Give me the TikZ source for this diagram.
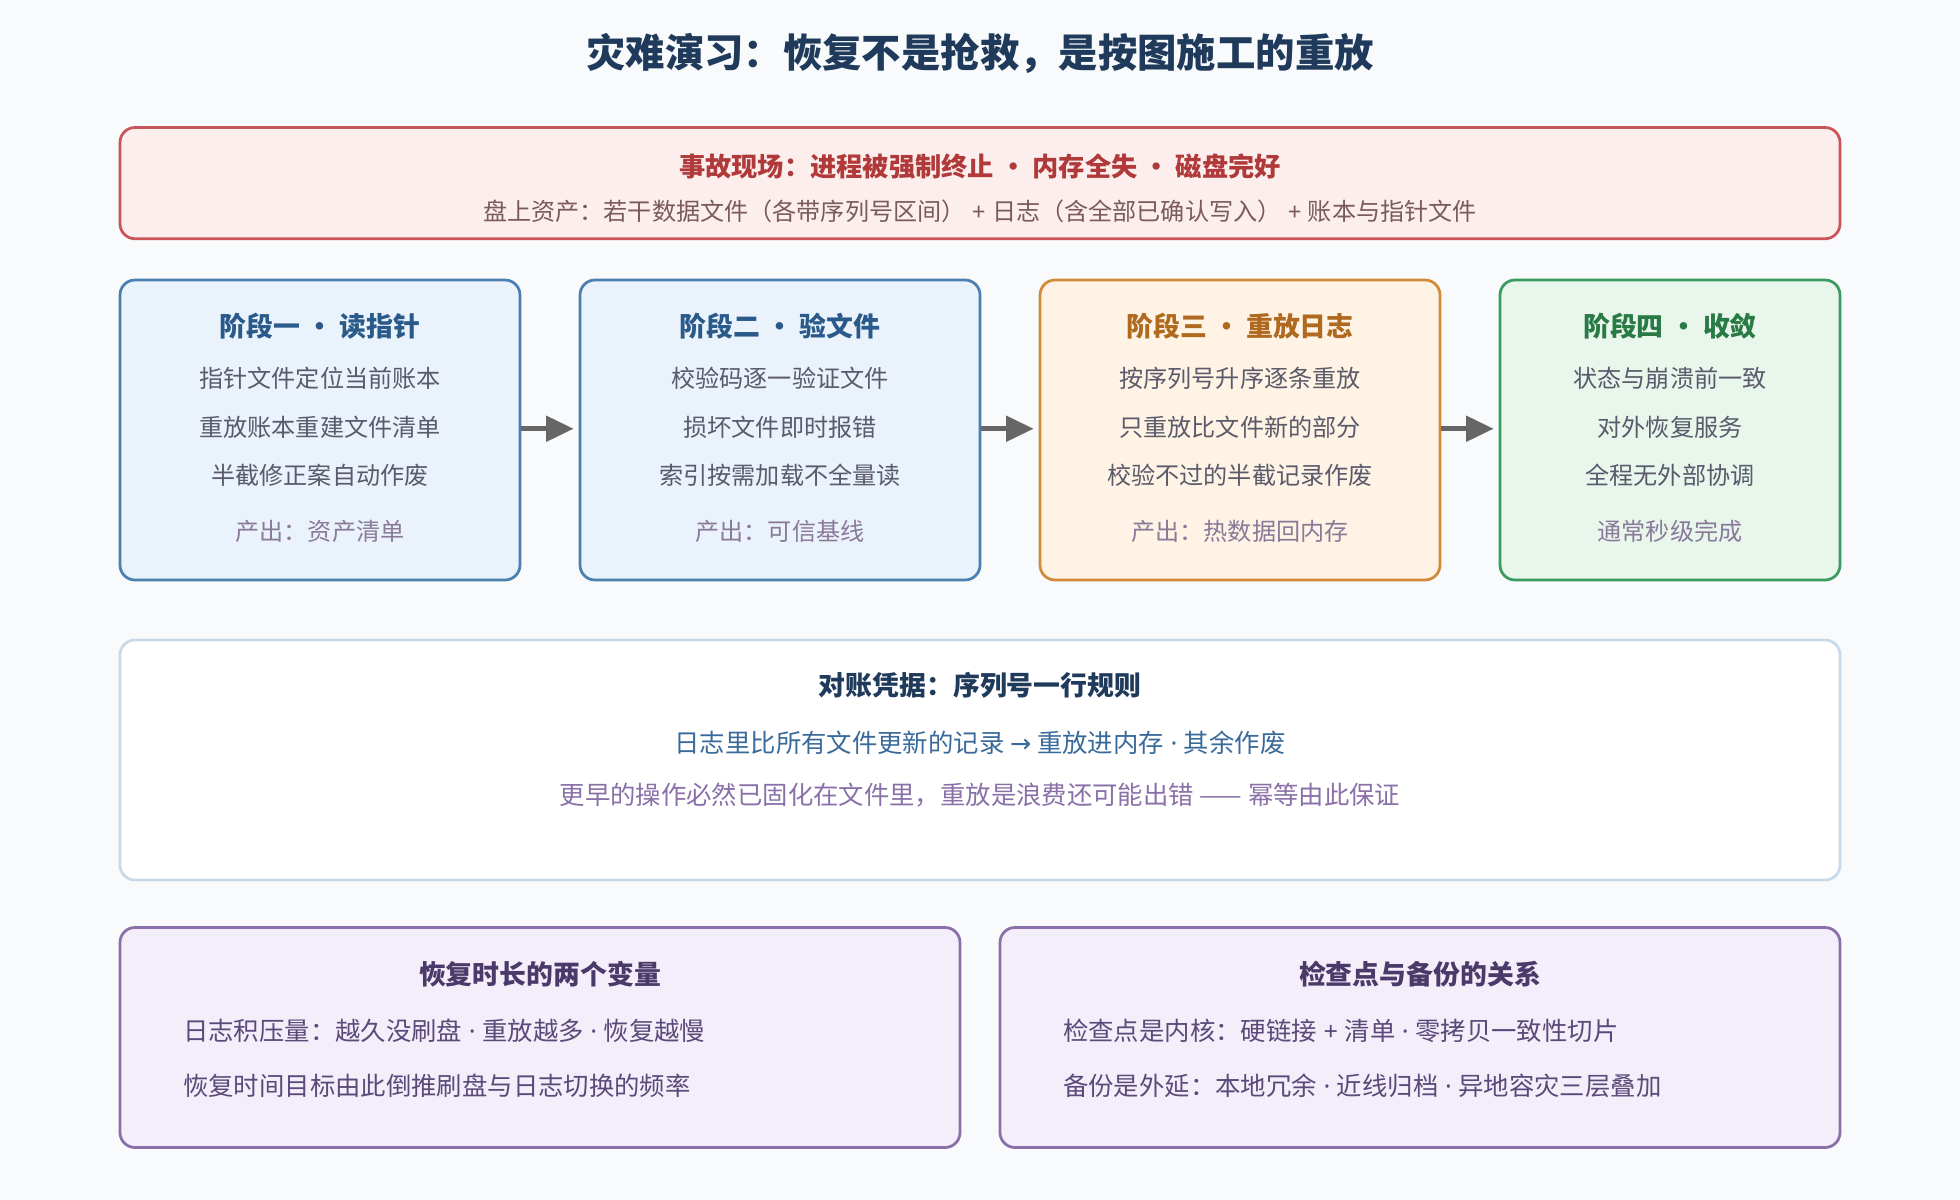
\documentclass[tikz,border=0pt]{standalone}
\usepackage{fontspec}
\setmainfont{Noto Sans CJK SC}
\newfontfamily\lat{Noto Sans}
\newfontfamily\dvs{DejaVu Sans}
\newcommand{\md}{{\lat\ ·\ }}
\newcommand{\pl}{{\lat\ +\ }}
\usetikzlibrary{arrows.meta}
\definecolor{bg}{HTML}{F8FAFC}
\definecolor{navy}{HTML}{1F3A5A}
\definecolor{redb}{HTML}{C9555A}\definecolor{redf}{HTML}{FDEEEE}\definecolor{redt}{HTML}{B03A3A}\definecolor{redg}{HTML}{7A5A5A}
\definecolor{blub}{HTML}{4A7FB0}\definecolor{bluf}{HTML}{EAF2FB}\definecolor{blut}{HTML}{2A5A8A}
\definecolor{orab}{HTML}{D08A3A}\definecolor{oraf}{HTML}{FEF3E4}\definecolor{orat}{HTML}{B06A20}
\definecolor{greb}{HTML}{3A9A60}\definecolor{gref}{HTML}{E8F6EC}\definecolor{gret}{HTML}{2A7A45}
\definecolor{body}{HTML}{5A5A6A}\definecolor{prod}{HTML}{8A7A9A}
\definecolor{midb}{HTML}{C8D8E8}\definecolor{midl}{HTML}{3A6A9A}\definecolor{midp}{HTML}{8A70A8}
\definecolor{purb}{HTML}{8A70A8}\definecolor{purf}{HTML}{F4EEFA}\definecolor{purt}{HTML}{4A3A6A}\definecolor{purl}{HTML}{5A4A7A}
\definecolor{arr}{HTML}{666666}
\tikzset{
 box/.style={draw, line width=2.2pt, rounded corners=12pt},
 ttl/.style={font=\fontsize{21.5}{24}\selectfont\bfseries},
 ln/.style={font=\fontsize{19.3}{22}\selectfont, text=body},
 lnb/.style={font=\fontsize{20.3}{22}\selectfont},
 flow/.style={-{Triangle[length=22pt,width=20pt]}, line width=4pt, arr, shorten >=-2pt},
}
\begin{document}
\begin{tikzpicture}[x=1pt,y=-1pt]
\fill[bg] (0,0) rectangle (1568,960);
\useasboundingbox (0,0) rectangle (1568,960);
\node[font=\fontsize{31.5}{34}\selectfont\bfseries, text=navy] (title) at (784,43) {灾难演习：恢复不是抢救，是按图施工的重放};
% incident
\draw[box, redb, fill=redf] (96,102) rectangle (1472,191);
\node[font=\fontsize{21}{24}\selectfont\bfseries, text=redt] (inc) at (784,133) {事故现场：进程被强制终止 · 内存全失 · 磁盘完好};
\node[ln, text=redg] (inc2) at (784,169) {盘上资产：若干数据文件（各带序列号区间）\pl 日志（含全部已确认写入）\pl 账本与指针文件};
% stages
\newcommand{\stage}[9]{%
 \node[box, draw=#3, fill=#4, minimum width=#2pt, minimum height=240pt] (#9) at (#1,344) {};
 \node[ttl, text=#5] at (#1,261) {#6};
 \node[ln] at (#1,303) {#7};
 \node[ln] at (#1,342) {#8};
}
\stage{256}{320}{blub}{bluf}{blut}{阶段一 · 读指针}{指针文件定位当前账本}{重放账本重建文件清单}{s1}
\node[ln] at (256,380) {半截修正案自动作废};
\node[ln, text=prod] at (256,425) {产出：资产清单};
\stage{624}{320}{blub}{bluf}{blut}{阶段二 · 验文件}{校验码逐一验证文件}{损坏文件即时报错}{s2}
\node[ln] at (624,380) {索引按需加载不全量读};
\node[ln, text=prod] at (624,425) {产出：可信基线};
\stage{992}{320}{orab}{oraf}{orat}{阶段三 · 重放日志}{按序列号升序逐条重放}{只重放比文件新的部分}{s3}
\node[ln] at (992,380) {校验不过的半截记录作废};
\node[ln, text=prod] at (992,425) {产出：热数据回内存};
\stage{1336}{272}{greb}{gref}{gret}{阶段四 · 收敛}{状态与崩溃前一致}{对外恢复服务}{s4}
\node[ln] at (1336,380) {全程无外部协调};
\node[ln, text=prod] at (1336,425) {通常秒级完成};
\draw[flow] (s1.east |- 0,343) -- ([xshift=-6pt]s2.west |- 0,343);
\draw[flow] (s2.east |- 0,343) -- ([xshift=-6pt]s3.west |- 0,343);
\draw[flow] (s3.east |- 0,343) -- ([xshift=-6pt]s4.west |- 0,343);
% middle
\draw[box, midb, fill=white] (96,512) rectangle (1472,704);
\node[ttl, text=navy] (mt) at (784,548) {对账凭据：序列号一行规则};
\node[lnb, text=midl] (m1) at (784,594) {日志里比所有文件更新的记录 {\dvs →} 重放进内存\md 其余作废};
\node[lnb, text=midp] (m2) at (784,636) {更早的操作必然已固化在文件里，重放是浪费还可能出错 —— 幂等由此保证};
% bottom
\draw[box, purb, fill=purf] (96,742) rectangle (768,918);
\node[ttl, text=purt] (b1) at (432,779) {恢复时长的两个变量};
\node[lnb, text=purl, anchor=west] at (143,825) {日志积压量：越久没刷盘\md 重放越多\md 恢复越慢};
\node[lnb, text=purl, anchor=west] at (143,869) {恢复时间目标由此倒推刷盘与日志切换的频率};
\draw[box, purb, fill=purf] (800,742) rectangle (1472,918);
\node[ttl, text=purt] (b2) at (1136,779) {检查点与备份的关系};
\node[lnb, text=purl, anchor=west] at (847,825) {检查点是内核：硬链接\pl 清单\md 零拷贝一致性切片};
\node[lnb, text=purl, anchor=west] at (847,869) {备份是外延：本地冗余\md 近线归档\md 异地容灾三层叠加};
\end{tikzpicture}
\end{document}
